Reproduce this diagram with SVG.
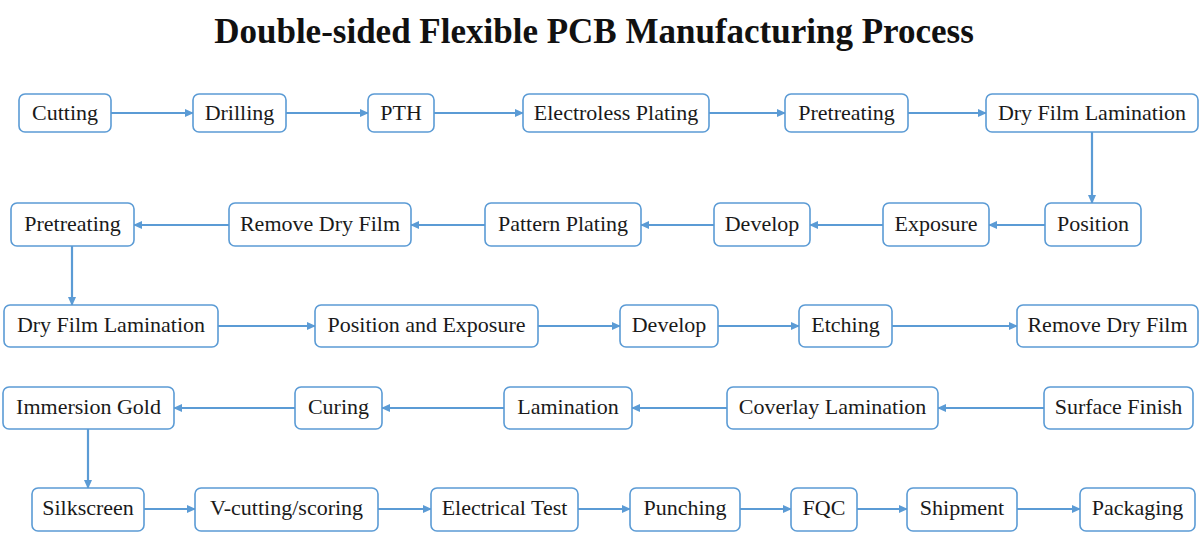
<svg xmlns="http://www.w3.org/2000/svg" width="1200" height="538" viewBox="0 0 1200 538">
<defs>
<marker id="ah" viewBox="0 0 10 10" refX="9" refY="5" markerWidth="9" markerHeight="9" markerUnits="userSpaceOnUse" orient="auto">
<path d="M0,0.5 L10,5 L0,9.5 Z" fill="#5b9bd5"/>
</marker>
<style>
.box{fill:#fff;stroke:#5b9bd5;stroke-width:1.6}
.lbl{font-family:"Liberation Serif","Times New Roman",Tinos,"Noto Serif","DejaVu Serif",serif;font-size:22px;font-weight:normal;fill:#1a1a1a;text-anchor:middle}
.title{font-family:"Liberation Serif","Times New Roman",Tinos,"DejaVu Serif",serif;font-size:35px;font-weight:bold;fill:#111;text-anchor:middle}
.c{stroke:#5b9bd5;stroke-width:2.2;fill:none;marker-end:url(#ah)}
</style>
</defs>
<rect width="1200" height="538" fill="#fff"/>
<text class="title" x="594" y="43">Double-sided Flexible PCB Manufacturing Process</text>

<g id="connectors">
<line class="c" x1="111" y1="113" x2="193" y2="113"/>
<line class="c" x1="286" y1="113" x2="368" y2="113"/>
<line class="c" x1="434" y1="113" x2="523" y2="113"/>
<line class="c" x1="709" y1="113" x2="785" y2="113"/>
<line class="c" x1="908" y1="113" x2="986" y2="113"/>
<line class="c" x1="1092" y1="132" x2="1092" y2="203"/>
<line class="c" x1="1045" y1="225" x2="989" y2="225"/>
<line class="c" x1="883" y1="225" x2="810" y2="225"/>
<line class="c" x1="714" y1="225" x2="641" y2="225"/>
<line class="c" x1="485" y1="225" x2="411" y2="225"/>
<line class="c" x1="229" y1="225" x2="134" y2="225"/>
<line class="c" x1="72" y1="246" x2="72" y2="305"/>
<line class="c" x1="218" y1="326" x2="315" y2="326"/>
<line class="c" x1="538" y1="326" x2="620" y2="326"/>
<line class="c" x1="718" y1="326" x2="799" y2="326"/>
<line class="c" x1="892" y1="326" x2="1017" y2="326"/>
<line class="c" x1="1044" y1="408" x2="938" y2="408"/>
<line class="c" x1="727" y1="408" x2="632" y2="408"/>
<line class="c" x1="504" y1="408" x2="382" y2="408"/>
<line class="c" x1="295" y1="408" x2="174" y2="408"/>
<line class="c" x1="88" y1="429" x2="88" y2="488"/>
<line class="c" x1="144" y1="509" x2="195" y2="509"/>
<line class="c" x1="378" y1="509" x2="431" y2="509"/>
<line class="c" x1="578" y1="509" x2="630" y2="509"/>
<line class="c" x1="740" y1="509" x2="791" y2="509"/>
<line class="c" x1="857" y1="509" x2="907" y2="509"/>
<line class="c" x1="1017" y1="509" x2="1080" y2="509"/>
</g>

<g id="n1"><rect class="box" x="19" y="94" width="92" height="38" rx="6"/><text class="lbl" x="65" y="120">Cutting</text></g>
<g id="n2"><rect class="box" x="193" y="94" width="93" height="38" rx="6"/><text class="lbl" x="239.5" y="120">Drilling</text></g>
<g id="n3"><rect class="box" x="368" y="94" width="66" height="38" rx="6"/><text class="lbl" x="401" y="120">PTH</text></g>
<g id="n4"><rect class="box" x="523" y="94" width="186" height="38" rx="6"/><text class="lbl" x="616" y="120">Electroless Plating</text></g>
<g id="n5"><rect class="box" x="785" y="94" width="123" height="38" rx="6"/><text class="lbl" x="846.5" y="120">Pretreating</text></g>
<g id="n6"><rect class="box" x="986" y="94" width="212" height="38" rx="6"/><text class="lbl" x="1092" y="120">Dry Film Lamination</text></g>

<g id="n7"><rect class="box" x="1045" y="203" width="96" height="43" rx="6"/><text class="lbl" x="1093" y="231">Position</text></g>
<g id="n8"><rect class="box" x="883" y="203" width="106" height="43" rx="6"/><text class="lbl" x="936" y="231">Exposure</text></g>
<g id="n9"><rect class="box" x="714" y="203" width="96" height="43" rx="6"/><text class="lbl" x="762" y="231">Develop</text></g>
<g id="n10"><rect class="box" x="485" y="203" width="156" height="43" rx="6"/><text class="lbl" x="563" y="231">Pattern Plating</text></g>
<g id="n11"><rect class="box" x="229" y="203" width="182" height="43" rx="6"/><text class="lbl" x="320" y="231">Remove Dry Film</text></g>
<g id="n12"><rect class="box" x="11" y="203" width="123" height="43" rx="6"/><text class="lbl" x="72.5" y="231">Pretreating</text></g>

<g id="n13"><rect class="box" x="4" y="305" width="214" height="42" rx="6"/><text class="lbl" x="111" y="332">Dry Film Lamination</text></g>
<g id="n14"><rect class="box" x="315" y="305" width="223" height="42" rx="6"/><text class="lbl" x="426.5" y="332">Position and Exposure</text></g>
<g id="n15"><rect class="box" x="620" y="305" width="98" height="42" rx="6"/><text class="lbl" x="669" y="332">Develop</text></g>
<g id="n16"><rect class="box" x="799" y="305" width="93" height="42" rx="6"/><text class="lbl" x="845.5" y="332">Etching</text></g>
<g id="n17"><rect class="box" x="1017" y="305" width="181" height="42" rx="6"/><text class="lbl" x="1107.5" y="332">Remove Dry Film</text></g>

<g id="n18"><rect class="box" x="1044" y="387" width="149" height="42" rx="6"/><text class="lbl" x="1118.5" y="414">Surface Finish</text></g>
<g id="n19"><rect class="box" x="727" y="387" width="211" height="42" rx="6"/><text class="lbl" x="832.5" y="414">Coverlay Lamination</text></g>
<g id="n20"><rect class="box" x="504" y="387" width="128" height="42" rx="6"/><text class="lbl" x="568" y="414">Lamination</text></g>
<g id="n21"><rect class="box" x="295" y="387" width="87" height="42" rx="6"/><text class="lbl" x="338.5" y="414">Curing</text></g>
<g id="n22"><rect class="box" x="3" y="387" width="171" height="42" rx="6"/><text class="lbl" x="88.5" y="414">Immersion Gold</text></g>

<g id="n23"><rect class="box" x="32" y="488" width="112" height="43" rx="6"/><text class="lbl" x="88" y="515">Silkscreen</text></g>
<g id="n24"><rect class="box" x="195" y="488" width="183" height="43" rx="6"/><text class="lbl" x="286.5" y="515">V-cutting/scoring</text></g>
<g id="n25"><rect class="box" x="431" y="488" width="147" height="43" rx="6"/><text class="lbl" x="504.5" y="515">Electrical Test</text></g>
<g id="n26"><rect class="box" x="630" y="488" width="110" height="43" rx="6"/><text class="lbl" x="685" y="515">Punching</text></g>
<g id="n27"><rect class="box" x="791" y="488" width="66" height="43" rx="6"/><text class="lbl" x="824" y="515">FQC</text></g>
<g id="n28"><rect class="box" x="907" y="488" width="110" height="43" rx="6"/><text class="lbl" x="962" y="515">Shipment</text></g>
<g id="n29"><rect class="box" x="1080" y="488" width="115" height="43" rx="6"/><text class="lbl" x="1137.5" y="515">Packaging</text></g>
</svg>
